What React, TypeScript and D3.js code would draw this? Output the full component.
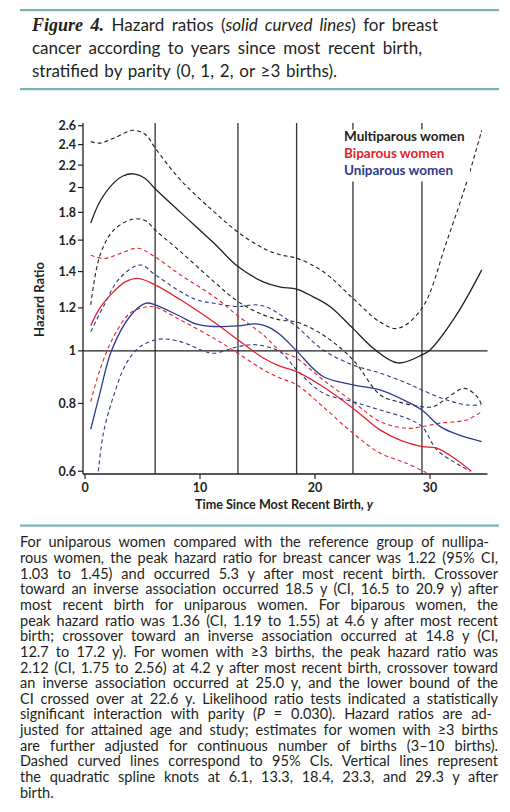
import React, { useLayoutEffect, useRef } from "react";
import * as d3 from "d3";

// ---------- data ----------
const xTicks = [0, 10, 20, 30];
const yTicks = [0.6, 0.8, 1, 1.2, 1.4, 1.6, 1.8, 2, 2.2, 2.4, 2.6];
const knots = [6.1, 13.3, 18.4, 23.3, 29.3];
const legendLabels = ["Multiparous women", "Biparous women", "Uniparous women"];

// [years since most recent birth, hazard ratio]
const multiparousHR: [number, number][] = [
  [0.5, 1.72], [1.3, 1.885], [2.5, 2.04], [3.3, 2.1], [4.2, 2.12], [5.2, 2.08], [6.1, 1.99],
  [8.3, 1.8], [11.2, 1.58], [13.3, 1.43], [15.5, 1.34], [17.0, 1.31], [18.4, 1.3], [19.8, 1.259],
  [21.3, 1.207], [23.3, 1.1], [25.1, 1.01], [27.2, 0.95], [29.3, 0.983], [30.0, 1.004],
  [32.3, 1.165], [34.5, 1.41],
];
const multiparousUpper: [number, number][] = [
  [0.5, 2.43], [1.3, 2.415], [2.5, 2.466], [4.2, 2.55], [5.3, 2.5], [6.1, 2.365], [8.3, 2.066],
  [11.2, 1.806], [13.3, 1.655], [15.5, 1.546], [17.0, 1.503], [18.4, 1.482], [20.7, 1.4],
  [23.3, 1.25], [25.65, 1.13], [27.2, 1.1], [29.3, 1.198], [31.45, 1.59], [33.2, 2.05], [34.5, 2.55],
];
const multiparousLower: [number, number][] = [
  [0.5, 1.216], [1.3, 1.5], [2.5, 1.67], [4.2, 1.75], [5.3, 1.735], [6.1, 1.67], [8.3, 1.524],
  [11.2, 1.342], [13.3, 1.233], [15.5, 1.165], [17.0, 1.14], [18.4, 1.13], [20.7, 1.07],
  [23.3, 0.963], [25.65, 0.83], [27.2, 0.806], [29.3, 0.789], [30.3, 0.789], [31.45, 0.818],
  [33.0, 0.853], [34.1, 0.823], [34.55, 0.789],
];
const biparousHR: [number, number][] = [
  [0.5, 1.113], [1.3, 1.2], [2.5, 1.286], [3.5, 1.34], [4.6, 1.36], [6.1, 1.323], [8.3, 1.242],
  [11.2, 1.13], [13.3, 1.048], [15.5, 0.97], [17.0, 0.936], [18.4, 0.916], [20.7, 0.859],
  [23.3, 0.784], [25.65, 0.715], [27.5, 0.683], [29.3, 0.666], [30.6, 0.662], [32.3, 0.63],
  [33.6, 0.6],
];
const biparousUpper: [number, number][] = [
  [0.5, 1.5], [1.7, 1.48], [3.0, 1.51], [4.6, 1.546], [6.1, 1.49], [8.3, 1.38], [11.2, 1.26],
  [13.3, 1.16], [15.5, 1.07], [17.0, 1.0], [18.4, 0.969], [20.7, 0.884], [23.3, 0.806],
  [25.65, 0.741], [28.0, 0.72], [29.3, 0.725], [30.9, 0.736], [33.2, 0.746], [34.5, 0.773],
];
const biparousLower: [number, number][] = [
  [0.5, 0.806], [1.3, 0.923], [2.5, 1.063], [3.9, 1.173], [5.3, 1.205], [6.1, 1.204], [8.3, 1.14],
  [11.2, 1.055], [13.3, 0.99], [15.5, 0.923], [17.0, 0.89], [18.4, 0.866], [20.7, 0.789],
  [23.3, 0.705], [25.65, 0.648], [28.0, 0.62], [29.7, 0.596],
];
const uniparousHR: [number, number][] = [
  [0.5, 0.717], [1.3, 0.836], [2.3, 1.0], [3.9, 1.157], [5.3, 1.224], [6.1, 1.216], [8.3, 1.157],
  [9.7, 1.12], [11.2, 1.109], [13.3, 1.112], [14.9, 1.121], [16.0, 1.105], [17.0, 1.07],
  [18.4, 1.0], [20.7, 0.897], [23.3, 0.866], [25.65, 0.847], [28.0, 0.806], [29.3, 0.778],
  [30.9, 0.725], [32.5, 0.7], [34.5, 0.68],
];
const uniparousUpper: [number, number][] = [
  [0.5, 1.085], [1.6, 1.207], [3.0, 1.36], [4.8, 1.44], [6.1, 1.381], [8.3, 1.286], [9.7, 1.242],
  [11.2, 1.224], [13.3, 1.207], [14.9, 1.216], [16.0, 1.2], [17.0, 1.165], [18.4, 1.109],
  [20.7, 1.004], [23.3, 0.942], [25.65, 0.91], [28.0, 0.872], [29.3, 0.847], [31.45, 0.812],
  [33.2, 0.795], [34.4, 0.795],
];
const uniparousLower: [number, number][] = [
  [1.16, 0.6], [1.6, 0.705], [2.46, 0.823], [3.6, 0.949], [4.8, 1.018], [6.5, 1.051], [8.3, 1.04],
  [10.3, 1.0], [11.2, 0.99], [13.3, 1.018], [14.9, 1.026], [17.0, 0.995], [18.4, 0.923],
  [20.7, 0.836], [23.3, 0.806], [25.65, 0.778], [28.0, 0.751], [29.3, 0.725], [30.6, 0.657],
  [32.3, 0.62], [33.5, 0.6],
];

const titleLines = [
  "cancer according to years since most recent birth,",
  "stratified by parity (0, 1, 2, or \u22653 births).",
];

const captionLines = [
  "For uniparous women compared with the reference group of nullipa-",
  "rous women, the peak hazard ratio for breast cancer was 1.22 (95% CI,",
  "1.03 to 1.45) and occurred 5.3 y after most recent birth. Crossover",
  "toward an inverse association occurred 18.5 y (CI, 16.5 to 20.9 y) after",
  "most recent birth for uniparous women. For biparous women, the",
  "peak hazard ratio was 1.36 (CI, 1.19 to 1.55) at 4.6 y after most recent",
  "birth; crossover toward an inverse association occurred at 14.8 y (CI,",
  "12.7 to 17.2 y). For women with \u22653 births, the peak hazard ratio was",
  "2.12 (CI, 1.75 to 2.56) at 4.2 y after most recent birth, crossover toward",
  "an inverse association occurred at 25.0 y, and the lower bound of the",
  "CI crossed over at 22.6 y. Likelihood ratio tests indicated a statistically",
  "significant interaction with parity (|P| = 0.030). Hazard ratios are ad-",
  "justed for attained age and study; estimates for women with \u22653 births",
  "are further adjusted for continuous number of births (3\u201310 births).",
  "Dashed curved lines correspond to 95% CIs. Vertical lines represent",
  "the quadratic spline knots at 6.1, 13.3, 18.4, 23.3, and 29.3 y after",
  "birth.",
];

// ---------- layout ----------
const W = 510;
const H = 812;
const TEAL = "#7ab2b4";
const INK = "#231f20";
const COLORS = { multi: "#231f20", bi: "#e1232b", uni: "#2e3a8c" };
const SANS = "Lato, 'Open Sans', sans-serif";

const plot = { left: 83, right: 487.5, top: 123, bottom: 474 };
const x = d3.scaleLinear().domain([0, 35]).range([85, 487.5]);
const y = d3.scaleLog().domain([0.593, 2.63]).range([plot.bottom, plot.top]);

const line = d3
  .line<[number, number]>()
  .x((d) => x(d[0]))
  .y((d) => y(d[1]))
  .curve(d3.curveCatmullRom.alpha(0.5));

function FitText(props: any) {
  const { width, children, ...rest } = props;
  const ref = useRef<SVGTextElement>(null);
  useLayoutEffect(() => {
    const measure = () => {
      const el = ref.current;
      if (!el || !width) return;
      el.style.wordSpacing = "0px";
      const w = el.getComputedTextLength();
      const spaces = ((el.textContent || "").match(/ /g) || []).length;
      if (spaces > 0) el.style.wordSpacing = `${(width - w) / spaces}px`;
    };
    measure();
    (document as any).fonts?.ready?.then(measure);
  });
  return (
    <text ref={ref} {...rest}>
      {children}
    </text>
  );
}

function renderCaption(s: string) {
  const parts = s.split("|");
  return parts.map((p, i) =>
    i % 2 === 1 ? (
      <tspan key={i} fontStyle="italic">
        {p}
      </tspan>
    ) : (
      <tspan key={i}>{p}</tspan>
    )
  );
}

export default function App() {
  const series = [
    { d: multiparousUpper, c: COLORS.multi, dash: true },
    { d: multiparousLower, c: COLORS.multi, dash: true },
    { d: biparousUpper, c: COLORS.bi, dash: true },
    { d: biparousLower, c: COLORS.bi, dash: true },
    { d: uniparousUpper, c: COLORS.uni, dash: true },
    { d: uniparousLower, c: COLORS.uni, dash: true },
    { d: multiparousHR, c: COLORS.multi, dash: false },
    { d: biparousHR, c: COLORS.bi, dash: false },
    { d: uniparousHR, c: COLORS.uni, dash: false },
  ];
  const legendColors = [COLORS.multi, COLORS.bi, COLORS.uni];
  const captionTargets = captionLines.map((_, i) =>
    i === 0 ? 469 : i === 11 ? 472 : i === captionLines.length - 1 ? 0 : 478
  );

  return (
    <svg
      width={W}
      height={H}
      style={{ position: "absolute", left: 0, top: 0, background: "#fff" }}
      fontFamily={SANS}
    >
      <rect x={0} y={0} width={W} height={H} fill="#fff" />
      {/* rules */}
      <rect x={20} y={9} width={479} height={2.2} fill={TEAL} />
      <rect x={20} y={88} width={479} height={2.2} fill={TEAL} />
      <rect x={20} y={524.5} width={479} height={2.2} fill={TEAL} />

      {/* title */}
      <FitText x={32} y={31} width={406} fontSize={17} fill={INK}>
        <tspan fontFamily="'Liberation Serif', serif" fontWeight="bold" fontStyle="italic" fontSize={18}>
          Figure 4.
        </tspan>
        {" Hazard ratios ("}
        <tspan fontStyle="italic">solid curved lines</tspan>
        {") for breast"}
      </FitText>
      <FitText x={32} y={54} width={390} fontSize={17} fill={INK}>
        {titleLines[0]}
      </FitText>
      <FitText x={32} y={77} width={305} fontSize={17} fill={INK}>
        {titleLines[1]}
      </FitText>

      {/* chart */}
      <defs>
        <clipPath id="plotClip">
          <rect x={plot.left} y={plot.top} width={plot.right - plot.left} height={plot.bottom - plot.top} />
        </clipPath>
      </defs>

      {knots.map((k) => (
        <line key={k} x1={x(k)} x2={x(k)} y1={plot.top} y2={plot.bottom} stroke="#333" strokeWidth={1.3} />
      ))}
      <line x1={plot.left} x2={plot.right} y1={y(1)} y2={y(1)} stroke={INK} strokeWidth={1.3} />

      <g clipPath="url(#plotClip)">
        {series.map((s, i) => (
          <path
            key={i}
            d={line(s.d) || ""}
            fill="none"
            stroke={s.c}
            strokeWidth={s.dash ? 1.1 : 1.3}
            strokeDasharray={s.dash ? "4,3" : undefined}
          />
        ))}
      </g>

      {/* legend */}
      <rect x={340} y={129.5} width={130} height={52} fill="#fff" />
      {legendLabels.map((l, i) => (
        <text key={l} x={344} y={141 + i * 17} fontSize={13.5} fontWeight={700} fill={legendColors[i]}>
          {l}
        </text>
      ))}

      {/* y axis */}
      <line x1={plot.left} x2={plot.left} y1={plot.top} y2={plot.bottom} stroke={INK} strokeWidth={1.3} />
      {yTicks.map((t) => (
        <g key={t} transform={`translate(0,${y(t)})`}>
          <line x1={plot.left - 5} x2={plot.left} stroke={INK} strokeWidth={1.2} />
          <text x={plot.left - 7} dy="0.36em" textAnchor="end" fontSize={12.5} fontWeight={700} fill={INK}>
            {d3.format("~g")(t)}
          </text>
        </g>
      ))}
      <text
        transform={`translate(44,${(plot.top + plot.bottom) / 2 + 1}) rotate(-90)`}
        textAnchor="middle"
        fontSize={13}
        fontWeight={700}
        fill={INK}
      >
        Hazard Ratio
      </text>

      {/* x axis */}
      <line x1={plot.left} x2={plot.right} y1={plot.bottom} y2={plot.bottom} stroke={INK} strokeWidth={1.3} />
      {xTicks.map((t) => (
        <g key={t} transform={`translate(${x(t)},${plot.bottom})`}>
          <line y1={0} y2={5} stroke={INK} strokeWidth={1.2} />
          <text y={18} textAnchor="middle" fontSize={12.5} fontWeight={700} fill={INK}>
            {t}
          </text>
        </g>
      ))}
      <text x={284} y={509} textAnchor="middle" fontSize={12.6} fontWeight={700} fill={INK}>
        Time Since Most Recent Birth, <tspan fontStyle="italic">y</tspan>
      </text>

      {/* caption */}
      {captionLines.map((l, i) => (
        <FitText
          key={i}
          x={20}
          y={547.3 + i * 15.65}
          width={captionTargets[i]}
          fontSize={14.5}
          fill={INK}
        >
          {renderCaption(l)}
        </FitText>
      ))}
    </svg>
  );
}
